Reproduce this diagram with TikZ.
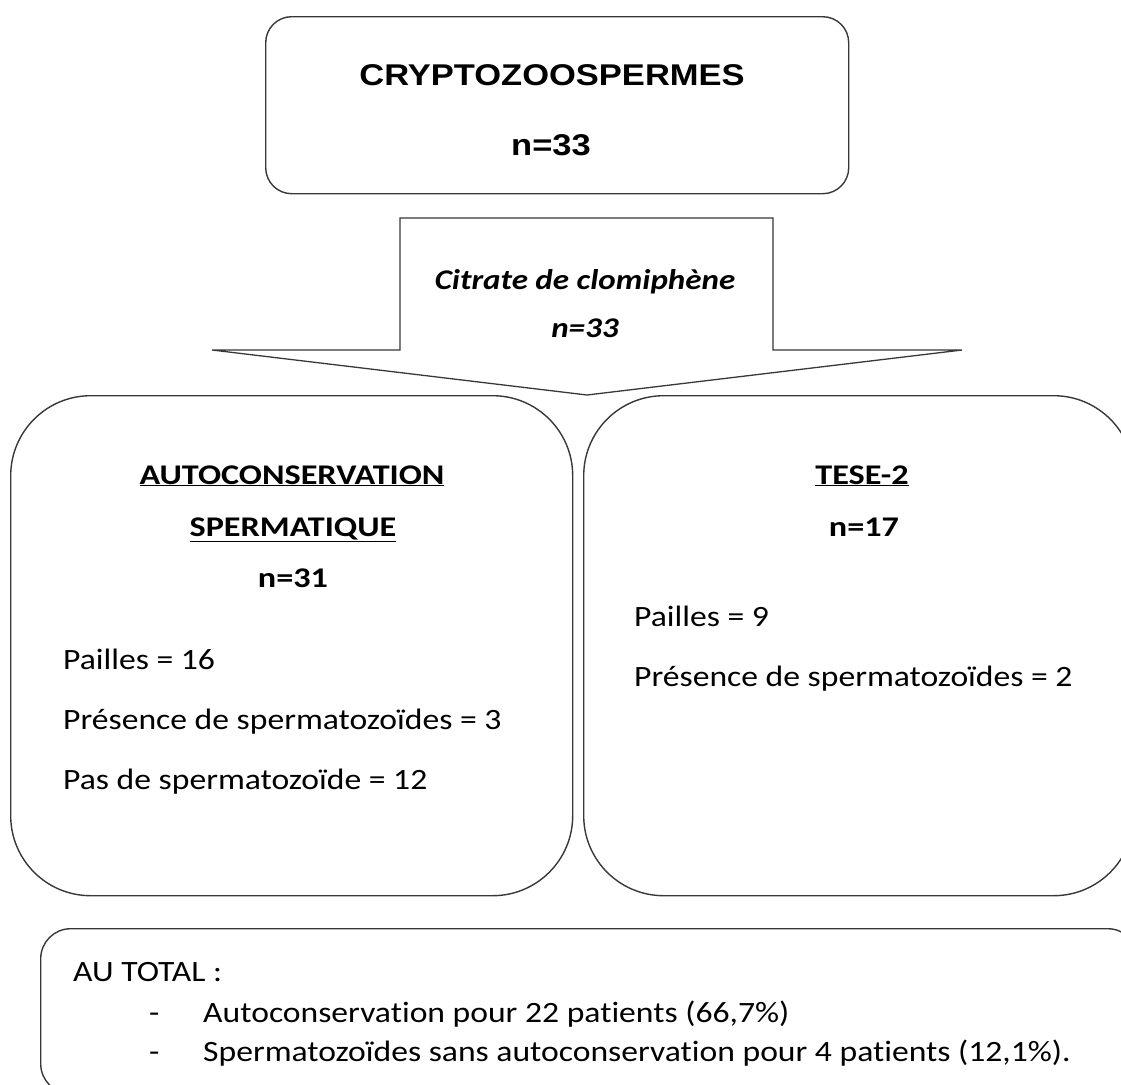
\documentclass[tikz,border=0pt]{standalone}
\usepackage{fontspec}
\setmainfont{Carlito}[Ligatures=NoCommon]
\newfontfamily\arialfont{Liberation Sans}
% horizontally widened text
\newcommand{\wide}[2]{\scalebox{#1}[1]{#2}}
\begin{document}
\begin{tikzpicture}[x=1pt,y=-1pt,
  outline/.style={draw=black!78,line width=1.4pt},
  panel/.style={outline,rectangle,inner sep=0pt,anchor=north west},
  txt/.style={inner sep=0pt,anchor=base west,font=\fontsize{29.5}{32}\selectfont},
  ctxt/.style={inner sep=0pt,anchor=base,font=\fontsize{28.5}{32}\selectfont\bfseries},
  titletxt/.style={inner sep=0pt,anchor=base,font=\arialfont\bfseries\fontsize{30}{32}\selectfont},
  arrowtxt/.style={inner sep=0pt,anchor=base,font=\fontsize{28.5}{32}\selectfont\bfseries\itshape},
]
\useasboundingbox (0,0) rectangle (1121,1084);
\clip (0,0) rectangle (1121,1084);

% top box
\node[panel,rounded corners=26pt,minimum width=583pt,minimum height=177pt] (top) at (265,16) {};
\node[titletxt] (t1) at (552,85) {\wide{1.15}{CRYPTOZOOSPERMES}};
\node[titletxt] (t2) at (551,155) {\wide{1.15}{n=33}};

% block arrow
\draw[outline,line width=1.3pt,line join=miter]
  (400,350) coordinate (sl) -- (400,218) -- (773,218) -- (773,350) coordinate (sr)
  -- (962,350) coordinate (wr) -- (587,395) coordinate (tip) -- (212,350) coordinate (wl) -- cycle;
\node[arrowtxt] (a1) at (585,289) {\wide{1.16}{Citrate de clomiphène}};
\node[arrowtxt] (a2) at (585,337) {\wide{1.16}{n=33}};

% left box
\node[panel,rounded corners=80pt,minimum width=562pt,minimum height=500pt] (left) at (10,395) {};
\node[ctxt] (l1) at (292,484) {\wide{1.2}{\underline{AUTOCONSERVATION}}};
\node[ctxt] (l2) at (293,536) {\wide{1.2}{\underline{SPERMATIQUE}}};
\node[ctxt] (l3) at (293,587) {\wide{1.2}{n=31}};
\node[txt] (l4) at (63,669) {\wide{1.14}{Pailles = 16}};
\node[txt] (l5) at (63,729) {\wide{1.14}{Présence de spermatozoïdes  = 3}};
\node[txt] (l6) at (63,789) {\wide{1.14}{Pas de spermatozoïde  = 12}};

% right box
\node[panel,rounded corners=80pt,minimum width=550pt,minimum height=500pt] (right) at (583,395) {};
\node[ctxt] (r1) at (862,484) {\wide{1.2}{\underline{TESE-2}}};
\node[ctxt] (r2) at (864,536) {\wide{1.2}{n=17}};
\node[txt] (r3) at (634,626) {\wide{1.14}{Pailles = 9}};
\node[txt] (r4) at (634,686) {\wide{1.14}{Présence de spermatozoïdes  = 2}};

% summary box
\node[panel,rounded corners=30pt,minimum width=1097pt,minimum height=165pt] (sum) at (40,928) {};
\node[txt] (s1) at (73,981) {\wide{1.14}{AU TOTAL :}};
\node[txt] (s2) at (149,1022) {\wide{1.14}{-}};
\node[txt] (s3) at (203,1022) {\wide{1.14}{Autoconservation  pour 22 patients (66,7\%)}};
\node[txt] (s4) at (149,1061) {\wide{1.14}{-}};
\node[txt] (s5) at (203,1061) {\wide{1.14}{Spermatozoïdes  sans autoconservation pour 4 patients (12,1\%).}};
\end{tikzpicture}
\end{document}
